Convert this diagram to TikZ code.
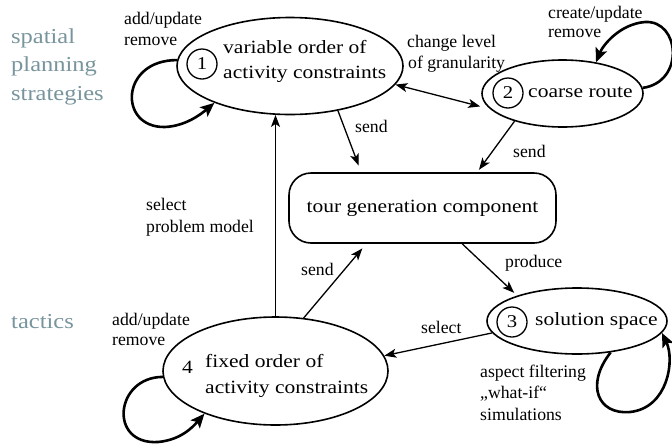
\documentclass[tikz,border=0pt]{standalone}
\usepackage{fontspec}
\setmainfont{Liberation Serif}
\newfontfamily\widefont[FakeStretch=1.15]{Liberation Serif}
\usetikzlibrary{arrows.meta,shapes.geometric}
\definecolor{sidegray}{RGB}{120,148,156}
\begin{document}
\begin{tikzpicture}[x=1pt,y=-1pt,
  oval/.style={ellipse, draw, line width=1.6pt, inner sep=0pt},
  numcirc/.style={circle, draw, line width=1.3pt, minimum size=30pt, inner sep=0pt, font=\widefont\fontsize{18}{20}\selectfont},
  maintext/.style={anchor=base west, inner sep=0pt, font=\widefont\fontsize{18.7}{25}\selectfont},
  lbl/.style={anchor=base west, inner sep=0pt, font=\fontsize{17.7}{20}\selectfont},
  side/.style={anchor=base west, inner sep=0pt, text=sidegray, font=\widefont\fontsize{21.3}{28}\selectfont},
  conn/.style={line width=1.3pt, -{Stealth[length=12pt,width=9pt,inset=3pt]}},
  selfloop/.style={line width=2.6pt, -{Stealth[length=14pt,width=12pt,inset=3pt]}},
  tip/.tip={Stealth[length=12pt,width=9pt,inset=3pt]}
]
\useasboundingbox (0,0) rectangle (672,445);

% side labels
\node[side] (s1) at (11,43) {spatial};
\node[side] (s2) at (11,71.5) {planning};
\node[side] (s3) at (11,100) {strategies};
\node[side] (s4) at (11,328) {tactics};

% main shapes
\node[oval, minimum width=226pt, minimum height=97pt] (e1) at (290,66) {};
\node[oval, minimum width=161pt, minimum height=67pt] (e2) at (562.5,93.5) {};
\node[oval, minimum width=180pt, minimum height=66pt] (e3) at (577,321) {};
\node[oval, minimum width=225pt, minimum height=108pt] (e4) at (275.5,371) {};
\node[draw, line width=1.6pt, rounded corners=22pt, minimum width=267pt, minimum height=70pt, inner sep=0pt,
      font=\widefont\fontsize{18.7}{25}\selectfont] (box) at (422.5,208) {tour generation component};

% numbers
\node[numcirc] (c1) at (202,64) {1};
\node[numcirc] (c2) at (508,93) {2};
\node[numcirc] (c3) at (512,322) {3};
\node[maintext] (n4) at (182,373) {4};

% texts in ellipses
\node[maintext] (t1a) at (223,53) {variable order of};
\node[maintext] (t1b) at (223,78) {activity constraints};
\node[maintext] (t2) at (528,97) {coarse route};
\node[maintext] (t3) at (535,325) {solution space};
\node[maintext] (t4a) at (205,367) {fixed order of};
\node[maintext] (t4b) at (205,393) {activity constraints};

% edge labels
\node[lbl] (l1a) at (124,24) {add/update};
\node[lbl] (l1b) at (124,45) {remove};
\node[lbl] (l2a) at (407,47) {change level};
\node[lbl] (l2b) at (408,68) {of granularity};
\node[lbl] (l3a) at (548,18) {create/update};
\node[lbl] (l3b) at (548,37) {remove};
\node[lbl] (l4) at (355,132) {send};
\node[lbl] (l5) at (513,157) {send};
\node[lbl] (l6a) at (146,210) {select};
\node[lbl] (l6b) at (146,232) {problem model};
\node[lbl] (l7) at (301,275) {send};
\node[lbl] (l8) at (505,267) {produce};
\node[lbl] (l9) at (421,333) {select};
\node[lbl] (l10a) at (480,377) {aspect filtering};
\node[lbl] (l10b) at (480,398) {„what-if“};
\node[lbl] (l10c) at (480,420) {simulations};
\node[lbl] (l11a) at (112,325) {add/update};
\node[lbl] (l11b) at (112,345) {remove};

% self loops
\draw[selfloop] (e1.177) .. controls (120,60) and (118,128) .. (165,127) .. controls (185,126) and (200,115) .. (e1.206);
\draw[selfloop] (e2.4) .. controls (685,82) and (680,20) .. (645,22) .. controls (620,24) and (603,45) .. (e2.43);
\draw[selfloop] (e3.-43) .. controls (585,385) and (598,415) .. (630,412) .. controls (668,408) and (675,360) .. (e3.-8);
\draw[selfloop] (e4.183) .. controls (115,377) and (108,445) .. (158,442) .. controls (180,440) and (192,428) .. (e4.211);

% connectors
\draw[line width=1.3pt, tip-tip, shorten >=10pt] (e1.-10) -- (e2.192);
\draw[conn, shorten >=7pt] (e1.-43) -- ([xshift=73pt]box.north west);
\draw[conn, shorten >=3pt] (e2.210) -- ([xshift=189pt]box.north west);
\draw[conn] (e4.north) -- (e4.north |- e1.-106);
\draw[conn, shorten >=6pt] (e4.62) -- ([xshift=78pt]box.south west);
\draw[conn, shorten >=4pt] ([xshift=174pt]box.south west) -- (e3.157);
\draw[conn] (e3.188) -- (e4.8);
\end{tikzpicture}
\end{document}
